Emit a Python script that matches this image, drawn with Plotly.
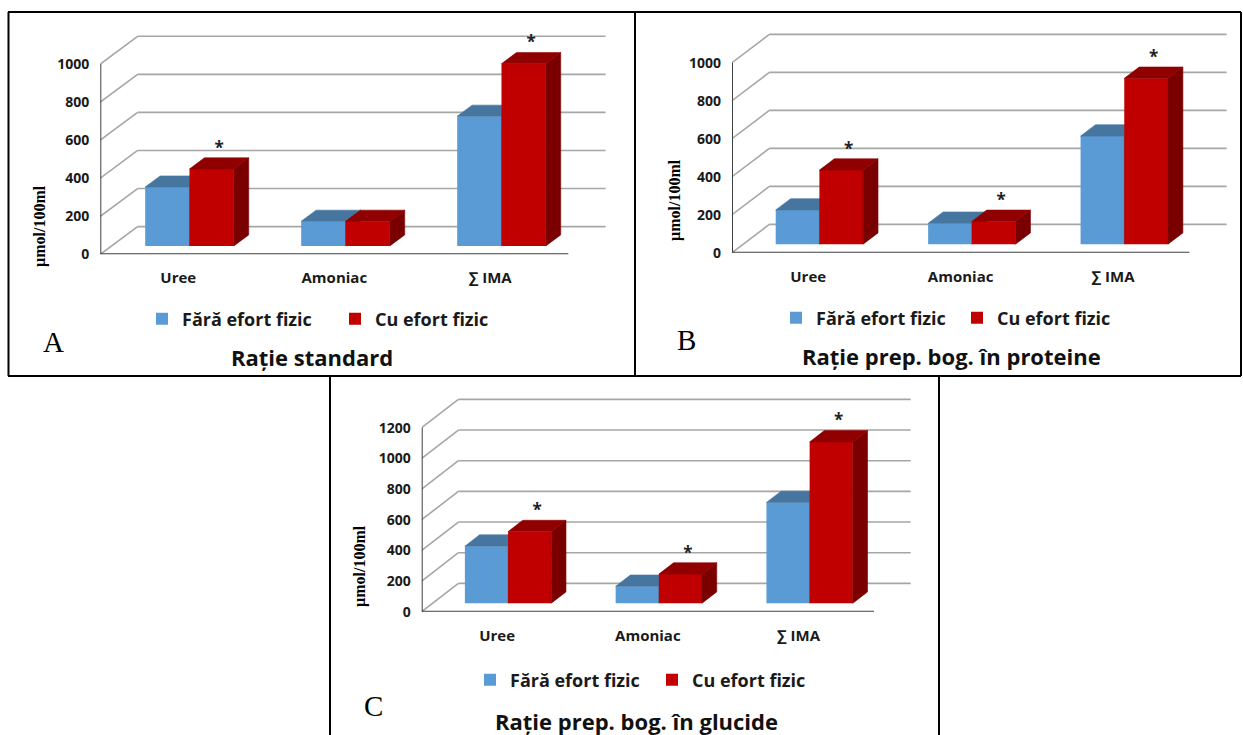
import plotly.graph_objects as go

W, H = 1243, 735

categories = ["Uree", "Amoniac", "∑ IMA"]
series_names = ["Fără efort fizic", "Cu efort fizic"]

# µmol/100ml for each diet: without / with physical effort
std_fara = [310, 130, 682]
std_cu = [405, 130, 958]
std_sig = [True, False, True]

prot_fara = [180, 110, 569]
prot_cu = [390, 120, 873]
prot_sig = [True, True, True]

gluc_fara = [372, 110, 657]
gluc_cu = [467, 190, 1052]
gluc_sig = [True, True, True]

ticks_1000 = [0, 200, 400, 600, 800, 1000]
ticks_1200 = [0, 200, 400, 600, 800, 1000, 1200]

panel_titles = ["Rație standard", "Rație prep. bog. în proteine", "Rație prep. bog. în glucide"]
panel_letters = ["A", "B", "C"]
y_title = "µmol/100ml"

# colours
BLUE_FRONT, BLUE_TOP, BLUE_SIDE = "#5B9BD5", "#4675A0", "#3A5F85"
RED_FRONT, RED_TOP, RED_SIDE = "#C00000", "#900000", "#7A0000"
GRID, AXIS = "#A6A6A6", "#404040"
FONT, SERIF = "Open Sans", "Liberation Serif"

# pixel geometry of each 3-D frame (front plane, wall depth, bar width)
frames = [
    dict(fx0=100.3, fx1=568.3, fy0=254.3, fytop=64.0, dx=37.3, dy=27.7, bw=44.3,
         legend=(161, 319), entry=148, letter=(53.5, 341.5), title=(312, 357), ytitle=(40, 226)),
    dict(fx0=732.0, fx1=1189.3, fy0=252.7, fytop=62.7, dx=37.3, dy=28.3, bw=43.7,
         legend=(795, 318), entry=136, letter=(686, 340), title=(951, 356), ytitle=(675, 200)),
    dict(fx0=421.7, fx1=874.0, fy0=611.7, fytop=427.7, dx=36.7, dy=28.3, bw=43.2,
         legend=(489, 680), entry=137, letter=(373, 706), title=(636, 721), ytitle=(360, 566)),
]
panel_data = [
    (std_fara, std_cu, std_sig, ticks_1000),
    (prot_fara, prot_cu, prot_sig, ticks_1000),
    (gluc_fara, gluc_cu, gluc_sig, ticks_1200),
]

F0, F1 = 0.3, 0.7  # depth fractions occupied by the bars

fig = go.Figure()
layout = dict(shapes=[], annotations=[])


def poly_trace(polys, color, xa, ya):
    xs, ys = [], []
    for px, py in polys:
        xs += px + [px[0], None]
        ys += py + [py[0], None]
    return go.Scatter(x=xs, y=ys, mode="lines", fill="toself", fillcolor=color,
                      line=dict(color=color, width=0.6), xaxis=xa, yaxis=ya,
                      showlegend=False, hoverinfo="skip")


for k, (fr, (fara, cu, sig, ticks)) in enumerate(zip(frames, panel_data)):
    nb, no = 2 * k + 1, 2 * k + 2
    xb, yb = ("x", "y") if nb == 1 else (f"x{nb}", f"y{nb}")
    xo, yo = f"x{no}", f"y{no}"
    leg = "legend" if k == 0 else f"legend{k + 1}"

    ncat = len(categories)
    cat_px = (fr["fx1"] - fr["fx0"]) / ncat
    ymax = ticks[-1]
    vpx = (fr["fy0"] - fr["fytop"]) / ymax
    dxu, dyu = fr["dx"] / cat_px, fr["dy"] / vpx
    w = fr["bw"] / cat_px
    base_y = F0 * dyu
    ddx, ddy = (F1 - F0) * dxu, (F1 - F0) * dyu
    centers = [i + 0.5 + F0 * dxu for i in range(ncat)]

    right_px = fr["fx1"] + fr["dx"] + 4
    top_px = fr["fytop"] - fr["dy"] - 24
    xr = [0, (right_px - fr["fx0"]) / cat_px]
    yr = [0, (fr["fy0"] - top_px) / vpx]
    xdom = [fr["fx0"] / W, right_px / W]
    ydom = [1 - fr["fy0"] / H, 1 - top_px / H]

    series = [
        (fara, -1, BLUE_FRONT, BLUE_TOP, BLUE_SIDE, xb, yb),
        (cu, 1, RED_FRONT, RED_TOP, RED_SIDE, xo, yo),
    ]
    for s, (vals, sign, cf, ct, cs, xa, ya) in enumerate(series):
        xs = [c + sign * w / 2 for c in centers]
        fig.add_trace(go.Bar(
            x=xs, y=vals, base=[base_y] * ncat, width=w,
            marker=dict(color=cf, line=dict(width=0)),
            name=series_names[s], legend=leg, xaxis=xa, yaxis=ya,
            hoverinfo="skip", showlegend=True))
        sides, tops = [], []
        for xc, v in zip(xs, vals):
            x0, x1 = xc - w / 2, xc + w / 2
            yt = base_y + v
            sides.append(([x1, x1 + ddx, x1 + ddx, x1],
                          [base_y, base_y + ddy, yt + ddy, yt]))
            tops.append(([x0, x1, x1 + ddx, x0 + ddx],
                         [yt, yt, yt + ddy, yt + ddy]))
        fig.add_trace(poly_trace(sides, cs, xa, ya))
        fig.add_trace(poly_trace(tops, ct, xa, ya))

    # significance marks above the "Cu efort fizic" bars
    star_x = [c + w / 2 + ddx / 2 for c, f in zip(centers, sig) if f]
    star_y = [base_y + v + ddy for v, f in zip(cu, sig) if f]
    fig.add_trace(go.Scatter(
        x=star_x, y=star_y, mode="text", text=["*"] * len(star_x),
        textposition="top center",
        textfont=dict(family=FONT, size=17, color="#222", weight="bold"),
        xaxis=xo, yaxis=yo, showlegend=False, hoverinfo="skip", cliponaxis=False))

    # walls: back gridlines, left-wall diagonals, front axes
    for g in ticks:
        layout["shapes"].append(dict(type="line", xref=xb, yref=yb, layer="below",
                                     x0=dxu, y0=g + dyu, x1=ncat + dxu, y1=g + dyu,
                                     line=dict(color=GRID, width=1.6)))
        layout["shapes"].append(dict(type="line", xref=xb, yref=yb, layer="below",
                                     x0=0, y0=g, x1=dxu, y1=g + dyu,
                                     line=dict(color=GRID, width=1.6)))
    layout["shapes"].append(dict(type="line", xref=xb, yref=yb, layer="below",
                                 x0=0, y0=0, x1=0, y1=ymax, line=dict(color=AXIS, width=2)))
    layout["shapes"].append(dict(type="line", xref=xb, yref=yb, layer="below",
                                 x0=0, y0=0, x1=ncat, y1=0, line=dict(color=AXIS, width=2)))

    ax_key = lambda a, n: f"{a}axis" if n == 1 else f"{a}axis{n}"
    layout[ax_key("x", nb)] = dict(
        domain=xdom, range=xr, anchor=yb, showgrid=False, zeroline=False, showline=False,
        tickvals=[i + 0.5 for i in range(ncat)], ticktext=categories, ticks="",
        tickfont=dict(family=FONT, size=15, color="#1a1a1a", weight="bold"),
        ticklabelstandoff=13, fixedrange=True)
    layout[ax_key("y", nb)] = dict(
        domain=ydom, range=yr, anchor=xb, showgrid=False, zeroline=False, showline=False,
        tickvals=ticks, ticks="", tickfont=dict(family=FONT, size=14, color="#1a1a1a", weight="bold"),
        ticklabelstandoff=10, fixedrange=True)
    layout[ax_key("x", no)] = dict(overlaying=xb, range=xr, anchor=yo, visible=False, fixedrange=True)
    layout[ax_key("y", no)] = dict(overlaying=yb, range=yr, anchor=xo, visible=False, fixedrange=True)

    lx, ly = fr["legend"]
    layout[leg] = dict(
        orientation="h", x=(lx - 19) / W, y=1 - ly / H, xanchor="left", yanchor="middle",
        font=dict(family=FONT, size=18, color="#1a1a1a", weight="bold"),
        bgcolor="rgba(0,0,0,0)", entrywidth=fr["entry"], itemclick=False, itemdoubleclick=False)

    tx, ty = fr["title"]
    layout["annotations"].append(dict(
        text=panel_titles[k], x=tx / W, y=1 - ty / H, xref="paper", yref="paper",
        showarrow=False, xanchor="center", yanchor="middle",
        font=dict(family=FONT, size=22, color="#111", weight="bold")))
    ax_, ay_ = fr["letter"]
    layout["annotations"].append(dict(
        text=panel_letters[k], x=ax_ / W, y=1 - ay_ / H, xref="paper", yref="paper",
        showarrow=False, xanchor="center", yanchor="middle",
        font=dict(family=SERIF, size=29, color="#000")))
    yx, yy = fr["ytitle"]
    layout["annotations"].append(dict(
        text=y_title, x=yx / W, y=1 - yy / H, xref="paper", yref="paper", textangle=-90,
        showarrow=False, xanchor="center", yanchor="middle",
        font=dict(family=SERIF, size=16, color="#000", weight="bold")))

# panel borders
border = dict(color="#000", width=2)
for x0, y0, x1, y1 in [
    (8, 12, 1241, 12), (8, 376, 1241, 376), (8.5, 12, 8.5, 376), (635, 12, 635, 376),
    (1241, 12, 1241, 376), (330, 376, 330, 735), (939, 376, 939, 735),
]:
    layout["shapes"].append(dict(type="line", xref="paper", yref="paper",
                                 x0=x0 / W, y0=1 - y0 / H, x1=x1 / W, y1=1 - y1 / H, line=border))

fig.update_layout(
    width=W, height=H, margin=dict(l=0, r=0, t=0, b=0, pad=0, autoexpand=False),
    paper_bgcolor="white", plot_bgcolor="rgba(0,0,0,0)",
    barmode="overlay", hovermode=False, **layout)

fig.write_html("out.html")
